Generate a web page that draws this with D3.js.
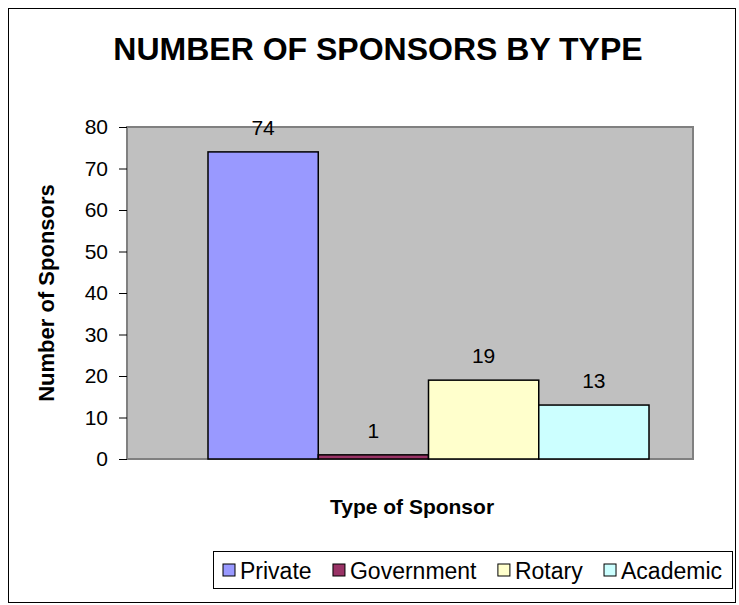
<!DOCTYPE html>
<html>
<head>
<meta charset="utf-8">
<script src="https://cdn.jsdelivr.net/npm/d3@7"></script>
<style>
  body { margin: 0; background: #fff; }
  text { font-family: "Liberation Sans", Arial, sans-serif; }
</style>
</head>
<body>
<svg id="chart" width="739" height="605"></svg>
<script>
const categories = ["Private", "Government", "Rotary", "Academic"];
const values = [74, 1, 19, 13];
const colors = ["#9999FF", "#993366", "#FFFFCC", "#CCFFFF"];
const yTicks = [0, 10, 20, 30, 40, 50, 60, 70, 80];
const title = "NUMBER OF SPONSORS BY TYPE";
const xTitle = "Type of Sponsor";
const yTitle = "Number of Sponsors";

const svg = d3.select("#chart");

// outer chart border
svg.append("rect").attr("x", 8.5).attr("y", 8.5).attr("width", 727).attr("height", 594)
  .attr("fill", "#fff").attr("stroke", "#000").attr("stroke-width", 1);

const plot = { left: 127, right: 693, top: 127, bottom: 459 };

const y = d3.scaleLinear().domain([0, 80]).range([plot.bottom, plot.top]);
const x = d3.scaleBand().domain(categories).range([208, 649]).padding(0);

// plot area
svg.append("rect").attr("x", plot.left).attr("y", plot.top)
  .attr("width", plot.right - plot.left).attr("height", plot.bottom - plot.top)
  .attr("fill", "#C0C0C0").attr("stroke", "#808080").attr("stroke-width", 2);

// y axis
const yAxis = d3.axisLeft(y).tickValues(yTicks).tickSize(8).tickPadding(11).tickFormat(d3.format("d"));
const ya = svg.append("g").attr("transform", `translate(${plot.left},0)`).call(yAxis);
ya.select(".domain").attr("stroke", "#808080").attr("stroke-width", 1);
ya.selectAll(".tick line").attr("stroke", "#000");
ya.selectAll(".tick text").attr("font-size", 21).attr("fill", "#000")
  .attr("font-family", "'Liberation Sans', Arial, sans-serif");

// bars
svg.selectAll(".bar").data(categories).enter().append("rect")
  .attr("x", d => x(d)).attr("width", x.bandwidth())
  .attr("y", (d, i) => y(values[i])).attr("height", (d, i) => y(0) - y(values[i]))
  .attr("fill", (d, i) => colors[i]).attr("stroke", "#000").attr("stroke-width", 1.5);

// value labels
svg.selectAll(".vl").data(categories).enter().append("text")
  .attr("x", d => x(d) + x.bandwidth() / 2)
  .attr("y", (d, i) => y(values[i]) - 17)
  .attr("text-anchor", "middle").attr("font-size", 21).attr("fill", "#000")
  .text((d, i) => values[i]);

// title
svg.append("text").attr("x", 378).attr("y", 60).attr("text-anchor", "middle")
  .attr("font-size", 32).attr("font-weight", "bold").text(title);

// axis titles
svg.append("text").attr("x", 412).attr("y", 514).attr("text-anchor", "middle")
  .attr("font-size", 21).attr("font-weight", "bold").text(xTitle);
svg.append("text").attr("transform", "translate(54,293) rotate(-90)").attr("text-anchor", "middle")
  .attr("font-size", 22).attr("font-weight", "bold").text(yTitle);

// legend
const lg = svg.append("g");
lg.append("rect").attr("x", 213.5).attr("y", 551.5).attr("width", 519).attr("height", 37)
  .attr("fill", "#fff").attr("stroke", "#000").attr("stroke-width", 1);
const items = categories.map((c, i) => {
  const sq = lg.append("rect").attr("y", 564).attr("width", 12).attr("height", 12)
    .attr("fill", colors[i]).attr("stroke", "#000").attr("stroke-width", 1);
  const t = lg.append("text").attr("y", 579).attr("font-size", 23).text(c);
  return { sq, t, w: t.node().getComputedTextLength() };
});
const startX = 223, endX = 722, sqW = 12, sqGap = 5;
const total = items.reduce((s, it) => s + sqW + sqGap + it.w, 0);
const gap = (endX - startX - total) / (items.length - 1);
let cx = startX;
items.forEach(it => {
  it.sq.attr("x", cx);
  it.t.attr("x", cx + sqW + sqGap);
  cx += sqW + sqGap + it.w + gap;
});
</script>
</body>
</html>
